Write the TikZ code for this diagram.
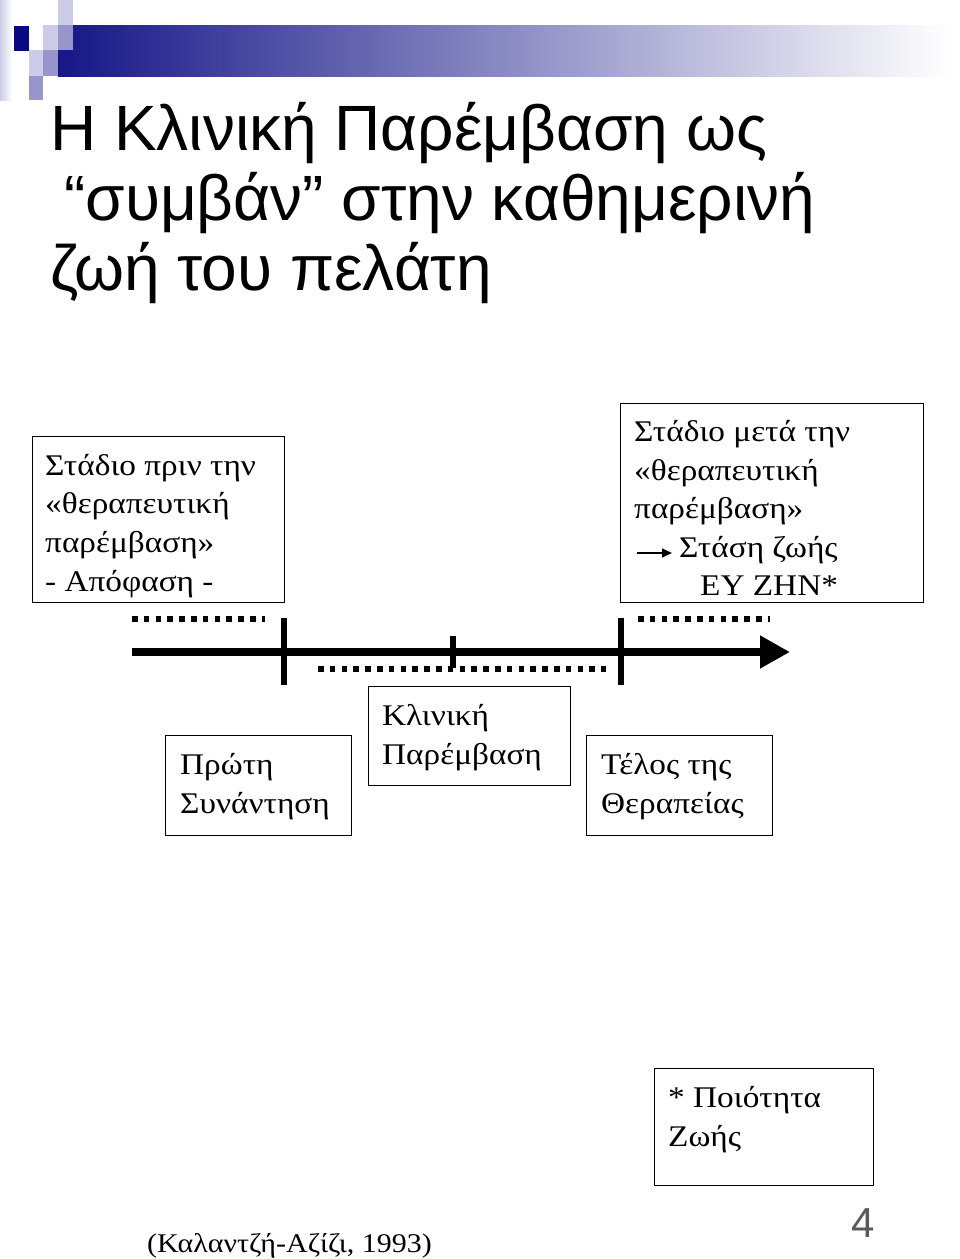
\documentclass[tikz,border=0pt]{standalone}
\usepackage{fontspec}
\setmainfont{Liberation Serif}
\newfontfamily\boxfont[FakeStretch=1.11]{Liberation Serif}
\newfontfamily\titlefont{Liberation Sans}
\usetikzlibrary{arrows.meta}
\definecolor{navy}{RGB}{10,10,128}
\definecolor{barleft}{RGB}{22,22,135}
\definecolor{lightsq}{RGB}{204,204,232}
\definecolor{medsq}{RGB}{150,150,204}
\definecolor{pagegray}{RGB}{90,90,90}
\tikzset{
  box/.style={draw=black, line width=1.3pt},
  txt/.style={anchor=base west, inner sep=0pt, font=\boxfont\fontsize{30}{36}\selectfont},
  ttl/.style={anchor=base west, inner sep=0pt, font=\titlefont\fontsize{64}{70}\selectfont},
  dots/.style={line width=5.5pt, dash pattern=on 5.5pt off 6.3pt},
  tick/.style={line width=6.5pt},
  timeline/.style={line width=7.5pt, -{Triangle[length=30pt,width=31pt]}},
  smallarrow/.style={line width=1.4pt, -{Triangle[length=10pt,width=9pt]}}
}
\begin{document}
\begin{tikzpicture}[x=1pt,y=-1pt]
\useasboundingbox (0,0) rectangle (960,1259);
% header decoration
\shade[left color=lightsq, right color=white] (0,0) rectangle (12,100);
\shade[left color=barleft, right color=white] (58,25) rectangle (950,76);
\fill[lightsq] (58,0) rectangle (73,25);
\fill[navy] (14,26) rectangle (29,51);
\fill[lightsq] (43,25) rectangle (58,50);
\fill[medsq] (58,25) rectangle (73,50);
\fill[lightsq] (29,50) rectangle (43,76);
\fill[medsq] (43,50) rectangle (58,76);
\fill[medsq] (29,76) rectangle (43,100);
% title
\node[ttl] (t1) at (50,150) {Η Κλινική Παρέμβαση ως};
\node[ttl] (t2) at (64,220) {“συμβάν” στην καθημερινή};
\node[ttl] (t3) at (50,290) {ζωή του πελάτη};
% box 1
\node[box, anchor=north west, minimum width=252pt, minimum height=166pt] (b1) at (32,436) {};
\node[txt] (b1a) at (45,475) {Στάδιο πριν την};
\node[txt] (b1b) at (45,513.7) {«θεραπευτική};
\node[txt] (b1c) at (45,552.4) {παρέμβαση»};
\node[txt] (b1d) at (45,591) {- Απόφαση -};
% box 2
\node[box, anchor=north west, minimum width=303pt, minimum height=199pt] (b2) at (620,403) {};
\node[txt] (b2a) at (634,441) {Στάδιο μετά την};
\node[txt] (b2b) at (634,480) {«θεραπευτική};
\node[txt] (b2c) at (634,518.5) {παρέμβαση»};
\node[txt] (b2d) at (679,557) {Στάση ζωής};
\node[txt] (b2e) at (700,595) {ΕΥ ΖΗΝ*};
\coordinate (sa0) at (637,553);
\coordinate (sa1) at (672,553);
\draw[smallarrow] (sa0) -- (sa1);
% box 3
\node[box, anchor=north west, minimum width=186pt, minimum height=100pt] (b3) at (165,735) {};
\node[txt] (b3a) at (180,774) {Πρώτη};
\node[txt] (b3b) at (180,813) {Συνάντηση};
% box 4
\node[box, anchor=north west, minimum width=202pt, minimum height=99pt] (b4) at (368,686) {};
\node[txt] (b4a) at (382,725) {Κλινική};
\node[txt] (b4b) at (382,764) {Παρέμβαση};
% box 5
\node[box, anchor=north west, minimum width=186pt, minimum height=100pt] (b5) at (586,735) {};
\node[txt] (b5a) at (601,774) {Τέλος της};
\node[txt] (b5b) at (601,813) {Θεραπείας};
% box 6
\node[box, anchor=north west, minimum width=219pt, minimum height=117pt] (b6) at (654,1068) {};
\node[txt] (b6a) at (668,1107) {* Ποιότητα};
\node[txt] (b6b) at (668,1146) {Ζωής};
% timeline
\coordinate (tl0) at (132,652);
\coordinate (tl1) at (790,652);
\draw[timeline] (tl0) -- (tl1);
\coordinate (k1a) at (284,618); \coordinate (k1b) at (284,685);
\coordinate (k2a) at (453,636); \coordinate (k2b) at (453,668);
\coordinate (k3a) at (621,618); \coordinate (k3b) at (621,685);
\draw[tick] (k1a) -- (k1b);
\draw[tick] (k2a) -- (k2b);
\draw[tick] (k3a) -- (k3b);
\coordinate (d1a) at (132,619); \coordinate (d1b) at (265,619);
\coordinate (d2a) at (318,669); \coordinate (d2b) at (606,669);
\coordinate (d3a) at (638,619); \coordinate (d3b) at (770,619);
\draw[dots] (d1a) -- (d1b);
\draw[dots] (d2a) -- (d2b);
\draw[dots] (d3a) -- (d3b);
% citation and page number
\node[txt, font=\boxfont\fontsize{27}{33}\selectfont] (cit) at (147,1252) {(Καλαντζή-Αζίζι, 1993)};
\node[anchor=base, inner sep=0pt, text=pagegray, font=\titlefont\fontsize{42}{48}\selectfont] (pg) at (863,1237) {4};
\end{tikzpicture}
\end{document}
